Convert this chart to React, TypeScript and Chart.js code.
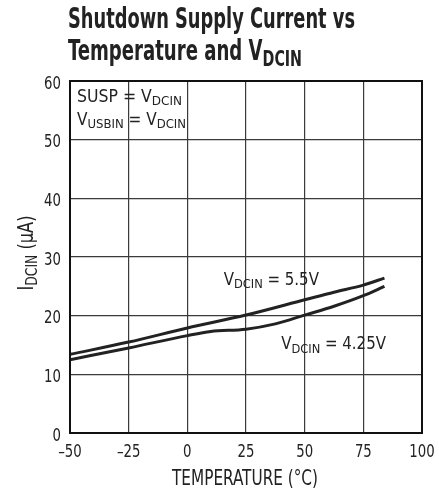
import React, { useEffect, useRef } from "react";
import { Chart, registerables } from "chart.js";

Chart.register(...registerables);

const temps55 = [-50, -25, 0, 25, 50, 62.5, 75, 84];
const curr55 = [13.4, 15.5, 17.9, 20.1, 22.7, 24.0, 25.2, 26.4];
const temps425 = [-50, -25, 0, 10, 25, 37.5, 50, 62.5, 75, 84];
const curr425 = [12.5, 14.5, 16.6, 17.3, 17.7, 18.6, 20.1, 21.6, 23.4, 25.0];
const xTicks = [-50, -25, 0, 25, 50, 75, 100];
const yTicks = [0, 10, 20, 30, 40, 50, 60];

const FONT = "'Liberation Sans Narrow', 'DejaVu Sans Condensed', 'Arial Narrow', sans-serif";
const INK = "#222";

type Part = { t: string; sub?: boolean };

function drawRich(
  ctx: CanvasRenderingContext2D,
  parts: Part[],
  x: number,
  y: number,
  size: number,
  opts: { bold?: boolean; align?: "left" | "center" | "right"; k?: number; fitWidth?: number } = {}
) {
  const bold = opts.bold ?? false;
  const subSize = Math.round(size * 0.78);
  const fontOf = (p: Part) => `${bold ? "bold " : ""}${p.sub ? subSize : size}px ${FONT}`;
  let total = 0;
  for (const p of parts) { ctx.font = fontOf(p); total += ctx.measureText(p.t).width; }
  const k = opts.fitWidth ? opts.fitWidth / total : opts.k ?? 1;
  const w = total * k;
  const align = opts.align ?? "left";
  const sx = align === "center" ? x - w / 2 : align === "right" ? x - w : x;
  ctx.save();
  ctx.translate(sx, y);
  ctx.scale(k, 1);
  ctx.textAlign = "left";
  ctx.textBaseline = "alphabetic";
  let cx = 0;
  for (const p of parts) {
    ctx.font = fontOf(p);
    ctx.fillText(p.t, cx, p.sub ? size * 0.2 : 0);
    cx += ctx.measureText(p.t).width;
  }
  ctx.restore();
}

const textPlugin = {
  id: "texts",
  afterDraw(chart: any) {
    const ctx: CanvasRenderingContext2D = chart.ctx;
    const { left, right, top, bottom } = chart.chartArea;
    const xs = chart.scales.x;
    const ys = chart.scales.y;
    ctx.save();
    ctx.fillStyle = INK;
    // frame
    ctx.strokeStyle = "#111";
    ctx.lineWidth = 2;
    ctx.strokeRect(left, top, right - left, bottom - top);
    // tick labels
    for (const t of xs.ticks) {
      drawRich(ctx, [{ t: String(t.value).replace("-", "–") }], xs.getPixelForValue(t.value), bottom + 24, 18, { align: "center", k: 0.82 });
    }
    for (const t of ys.ticks) {
      drawRich(ctx, [{ t: String(t.value) }], left - 9, ys.getPixelForValue(t.value) + 7.5, 18, { align: "right", k: 0.82 });
    }
    // title
    drawRich(ctx, [{ t: "Shutdown Supply Current vs" }], 68, 28, 28, { bold: true, fitWidth: 287 });
    drawRich(ctx, [{ t: "Temperature and V" }, { t: "DCIN", sub: true }], 68, 60, 28, { bold: true, fitWidth: 234 });
    // annotations
    drawRich(ctx, [{ t: "SUSP = V" }, { t: "DCIN", sub: true }], left + 7, top + 21, 17, { fitWidth: 105 });
    drawRich(ctx, [{ t: "V" }, { t: "USBIN", sub: true }, { t: " = V" }, { t: "DCIN", sub: true }], left + 7, top + 44, 17, { k: 1.0 });
    drawRich(ctx, [{ t: "V" }, { t: "DCIN", sub: true }, { t: " = 5.5V" }], xs.getPixelForValue(15.5), ys.getPixelForValue(25.3), 17, { k: 0.98 });
    drawRich(ctx, [{ t: "V" }, { t: "DCIN", sub: true }, { t: " = 4.25V" }], xs.getPixelForValue(40), ys.getPixelForValue(14.3), 17, { k: 0.98 });
    // axis titles
    drawRich(ctx, [{ t: "TEMPERATURE (°C)" }], 245, 485, 21, { align: "center", fitWidth: 146 });
    ctx.save();
    ctx.translate(33, 253);
    ctx.rotate(-Math.PI / 2);
    drawRich(ctx, [{ t: "I" }, { t: "DCIN", sub: true }, { t: " (µA)" }], 0, 0, 21, { align: "center", fitWidth: 75 });
    ctx.restore();
    ctx.restore();
  },
};

export default function App() {
  const ref = useRef<HTMLCanvasElement | null>(null);
  useEffect(() => {
    if (!ref.current) return;
    const lineStyle = {
      borderColor: INK,
      borderWidth: 3,
      pointRadius: 0,
      fill: false,
      cubicInterpolationMode: "monotone" as const,
    };
    const chart = new Chart(ref.current, {
      type: "line",
      data: {
        datasets: [
          { label: "VDCIN = 5.5V", data: temps55.map((t, i) => ({ x: t, y: curr55[i] })), ...lineStyle },
          { label: "VDCIN = 4.25V", data: temps425.map((t, i) => ({ x: t, y: curr425[i] })), ...lineStyle },
        ],
      },
      options: {
        animation: false,
        responsive: false,
        layout: { padding: { top: 81, right: 17, left: 0, bottom: 0 } },
        plugins: { legend: { display: false }, tooltip: { enabled: false }, title: { display: false } },
        scales: {
          x: {
            type: "linear",
            min: -50,
            max: 100,
            afterFit: (s: any) => { s.height = 58; },
            afterBuildTicks: (s: any) => { s.ticks = xTicks.map((v) => ({ value: v })); },
            ticks: { display: false },
            grid: { color: "#3a3a3a", lineWidth: 1.2, drawTicks: false },
            border: { color: "#111", width: 2 },
          },
          y: {
            min: 0,
            max: 60,
            afterFit: (s: any) => { s.width = 70; },
            afterBuildTicks: (s: any) => { s.ticks = yTicks.map((v) => ({ value: v })); },
            ticks: { display: false },
            grid: { color: "#3a3a3a", lineWidth: 1.2, drawTicks: false },
            border: { color: "#111", width: 2 },
          },
        },
      },
      plugins: [textPlugin],
    });
    return () => chart.destroy();
  }, []);
  return (
    <div style={{ position: "absolute", left: 0, top: 0, width: 439, height: 491, background: "#fff" }}>
      <canvas ref={ref} width={439} height={491} style={{ display: "block" }} />
    </div>
  );
}
